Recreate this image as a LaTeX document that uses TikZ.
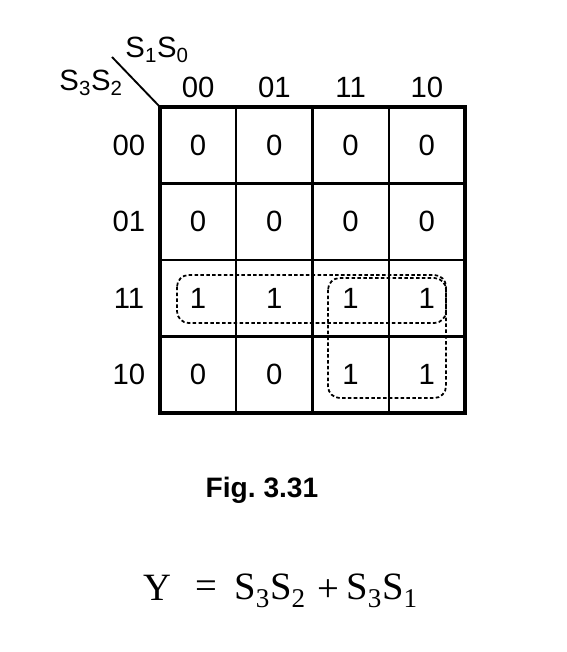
\documentclass[tikz,border=0pt]{standalone}
\usepackage{fontspec}
\setmainfont{Liberation Sans}
\newfontfamily\eqfont{Liberation Serif}
\begin{document}
\begin{tikzpicture}[x=0.03cm, y=-0.03cm]

		\def \cellw {76.25} %in px
		\def \cellh {76.5}
		\def \LeftX {160}
		\def \TopY {107}
		\def \numsize {\fontsize{25}{28}\selectfont}
		\def \eqsize {\eqfont\fontsize{33}{38}\selectfont}

		\useasboundingbox (0,0) rectangle (566,652);

		% grid
		\foreach \i in {1,2,3} {
			\draw[line width=2pt] (\LeftX+\i*\cellw,\TopY) -- (\LeftX+\i*\cellw,\TopY+4*\cellh);
			\draw[line width=2pt] (\LeftX,\TopY+\i*\cellh) -- (\LeftX+4*\cellw,\TopY+\i*\cellh);
		}
		\draw[line width=3.2pt] (\LeftX,\TopY) rectangle (\LeftX+4*\cellw,\TopY+4*\cellh);

		% corner
		\coordinate (corner) at (\LeftX,\TopY);
		\coordinate (slash) at (112,57);
		\draw[line width=1.6pt] (slash) -- (corner);
		\node (S10) at (157,50) {\numsize S\textsubscript{1}S\textsubscript{0}};
		\node (S32) at (91,83) {\numsize S\textsubscript{3}S\textsubscript{2}};

		% headers
		\foreach \lbl [count=\i from 0] in {00,01,11,10} {
			\node (col\i) at (\LeftX+\i*\cellw+0.5*\cellw,87) {\numsize \lbl};
			\node (row\i) at (129,\TopY+\i*\cellh+0.5*\cellh) {\numsize \lbl};
		}

		% cells
		\foreach \r/\vals in {0/{0,0,0,0},1/{0,0,0,0},2/{1,1,1,1},3/{0,0,1,1}} {
			\foreach \v [count=\c from 0] in \vals {
				\node (c\r\c) at (\LeftX+\c*\cellw+0.5*\cellw,\TopY+\r*\cellh+0.5*\cellh) {\numsize \v};
			}
		}

		% groups
		\draw[line width=1.5pt, densely dashed, rounded corners=10] (177,275) rectangle (446,323);
		\draw[line width=1.5pt, densely dashed, rounded corners=10] (328,278) rectangle (446,398);

		\node (fig) at (262,490) {\fontsize{24}{28}\selectfont\bfseries Fig.\ 3.31};

		% result
		\node (Y) at (157,588) {\eqsize Y};
		\node (eq) at (206,590) {\eqsize =};
		\node (t1) at (270,591) {\eqsize S\textsubscript{3}S\textsubscript{2}};
		\node (plus) at (328,591) {\eqsize +};
		\node (t2) at (382,591) {\eqsize S\textsubscript{3}S\textsubscript{1}};

\end{tikzpicture}
\end{document}
